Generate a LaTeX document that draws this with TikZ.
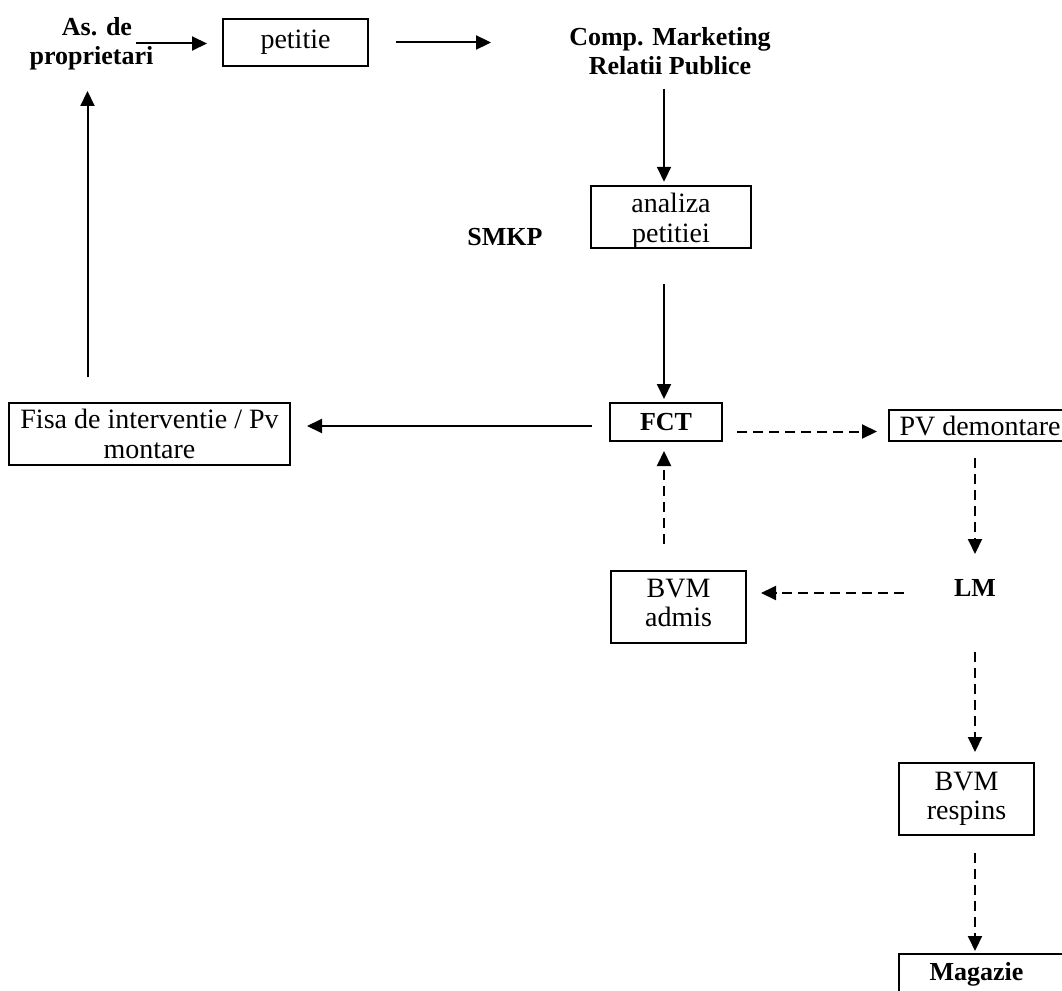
\documentclass[tikz,border=0pt]{standalone}
\usepackage{fontspec}
\setmainfont{Liberation Serif}
\usetikzlibrary{arrows.meta}
\tikzset{
  rtxt/.style={font=\fontsize{28}{29.5}\selectfont},
  btxt/.style={font=\fontsize{26}{29}\selectfont\bfseries, inner sep=0pt, align=center},
  boxnode/.style={draw, line width=2pt, inner sep=0pt, align=center, rtxt},
  arr/.style={line width=2pt, -{Triangle[length=15pt,width=14pt]}},
  darr/.style={arr, dash pattern=on 10pt off 6pt}
}
\begin{document}
\begin{tikzpicture}[x=1pt,y=-1pt]
\useasboundingbox (0,0) rectangle (1062,990);
\clip (0,0) rectangle (1062,990);
\coordinate (ax) at (664,0);
% nodes
\node[btxt] (as) at (91.5,43.5) {\hspace*{11pt}As. de\\proprietari};
\node[boxnode, minimum width=145pt, minimum height=47pt] (petitie) at (295.5,42.5) {petitie};
\node[btxt] (comp) at (670,51) {Comp. Marketing\\Relatii Publice};
\node[boxnode, minimum width=160pt, minimum height=62pt] (analiza) at (671,217) {\rule{0pt}{27pt}analiza\\petitiei};
\node[btxt] (smkp) at (505,237) {SMKP};
\node[boxnode, minimum width=112pt, minimum height=38pt, font=\fontsize{26}{29}\selectfont\bfseries] (fct) at (666,422) {FCT};
\node[boxnode, minimum width=281pt, minimum height=62pt] (fisa) at (149.5,434) {Fisa de interventie / Pv\\montare};
\node[boxnode, minimum width=182pt, minimum height=31pt] (pvd) at (980,425.5) {PV demontare};
\node[btxt] (lm) at (975,588) {LM};
\node[boxnode, minimum width=135pt, minimum height=72pt] (bvma) at (678.5,607) {BVM\\admis\rule[-8pt]{0pt}{8pt}};
\node[boxnode, minimum width=135pt, minimum height=72pt] (bvmr) at (966.5,799) {BVM\\respins};
\node[boxnode, minimum width=171pt, minimum height=40pt, font=\fontsize{26}{29}\selectfont\bfseries] (mag) at (984.5,974) {Magazie\hspace*{16pt}};
% solid connectors
\draw[arr, shorten >=15pt] ([xshift=-17.6pt]as.east) -- (petitie.west |- as.east);
\draw[arr, shorten <=27pt] (petitie.east) -- ([xshift=-78pt]comp.west |- petitie.east);
\draw[arr, shorten <=14pt, shorten >=3pt] (ax |- comp.south) -- (ax |- analiza.north);
\draw[arr, shorten <=35pt, shorten >=3pt] (ax |- analiza.south) -- (ax |- fct.north);
\draw[arr, shorten <=17pt, shorten >=16pt] ([yshift=-4pt]fct.west) -- ([yshift=-4pt]fisa.east |- fct.west);
\draw[arr, shorten <=25pt, shorten >=21pt] ([xshift=-4pt]as.south |- fisa.north) -- ([xshift=-4pt]as.south);
% dashed connectors
\draw[darr, shorten <=14pt, shorten >=11pt] ([yshift=-6pt]fct.east |- pvd.west) -- ([yshift=-6pt]pvd.west);
\draw[darr, shorten <=16pt, shorten >=34pt] (lm |- pvd.south) -- (lm.center);
\draw[darr, shorten <=50pt, shorten >=14pt] ([yshift=-5pt]lm.west) -- ([yshift=-5pt]bvma.east |- lm.west);
\draw[darr, shorten <=26pt, shorten >=9pt] (ax |- bvma.north) -- (ax |- fct.south);
\draw[darr, shorten <=55pt, shorten >=10pt] (lm.south) -- (lm.south |- bvmr.north);
\draw[darr, shorten <=17pt, shorten >=2pt] (lm.south |- bvmr.south) -- (lm.south |- mag.north);
\end{tikzpicture}
\end{document}
